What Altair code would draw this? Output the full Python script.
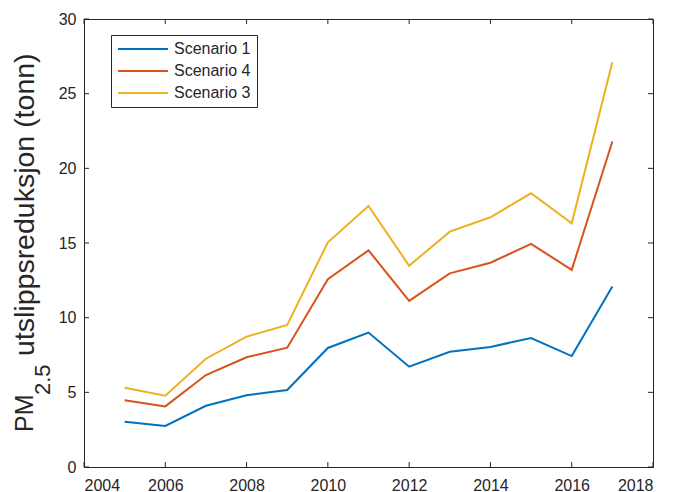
import altair as alt
import pandas as pd

# Annual PM2.5 emission reductions (tonnes) per scenario
years = [2005, 2006, 2007, 2008, 2009, 2010, 2011, 2012, 2013, 2014, 2015, 2016, 2017]
scenario_1 = [3.03, 2.75, 4.10, 4.80, 5.16, 7.97, 9.00, 6.72, 7.72, 8.04, 8.64, 7.43, 12.08]
scenario_4 = [4.47, 4.06, 6.16, 7.35, 7.99, 12.57, 14.51, 11.12, 12.97, 13.68, 14.94, 13.20, 21.80]
scenario_3 = [5.31, 4.78, 7.25, 8.73, 9.51, 15.05, 17.48, 13.48, 15.76, 16.72, 18.33, 16.32, 27.10]

series_names = ["Scenario 1", "Scenario 4", "Scenario 3"]
series_colors = ["#0072BD", "#D95319", "#EDB120"]

x_tick_values = [2004, 2006, 2008, 2010, 2012, 2014, 2016, 2018]
y_tick_values = [0, 5, 10, 15, 20, 25, 30]

title_parts = ["PM", "2.5", "utslippsreduksjon (tonn)"]

INK = "#262626"
FONT = "Liberation Sans"
W, H = 569, 448

rows = []
for name, vals in zip(series_names, [scenario_1, scenario_4, scenario_3]):
    for yr, v in zip(years, vals):
        rows.append({"year": yr, "value": v, "series": name})
df = pd.DataFrame(rows)

x_scale = alt.Scale(domain=[2004, 2018], nice=False, zero=False)
y_scale = alt.Scale(domain=[0, 30], nice=False)
x_axis = alt.Axis(values=x_tick_values, format="d", title=None)
y_axis = alt.Axis(values=y_tick_values, title=None)

lines = alt.Chart(df).mark_line(strokeWidth=2).encode(
    x=alt.X("year:Q", scale=x_scale, axis=x_axis),
    y=alt.Y("value:Q", scale=y_scale, axis=y_axis),
    color=alt.Color(
        "series:N",
        scale=alt.Scale(domain=series_names, range=series_colors),
        sort=series_names,
        legend=alt.Legend(
            title=None,
            orient="none",
            legendX=27,
            legendY=16,
            symbolType="stroke",
            symbolSize=2500,
            symbolStrokeWidth=2,
            clipHeight=16,
            labelFont=FONT,
            labelFontSize=16,
            labelColor=INK,
            labelOffset=5,
            rowPadding=6,
            padding=6,
            fillColor="white",
            strokeColor=INK,
        ),
    ),
)

xt = pd.DataFrame({"year": x_tick_values})
yt = pd.DataFrame({"value": y_tick_values})

# inward-pointing tick marks on all four sides of the box
tick_bottom = alt.Chart(xt).mark_rule(color=INK, strokeWidth=1).encode(
    x=alt.X("year:Q", scale=x_scale, axis=x_axis),
    y=alt.value(H), y2=alt.value(H - 5))
tick_top = alt.Chart(xt).mark_rule(color=INK, strokeWidth=1).encode(
    x=alt.X("year:Q", scale=x_scale, axis=x_axis),
    y=alt.value(0), y2=alt.value(5))
tick_left = alt.Chart(yt).mark_rule(color=INK, strokeWidth=1).encode(
    y=alt.Y("value:Q", scale=y_scale, axis=y_axis),
    x=alt.value(0), x2=alt.value(5))
tick_right = alt.Chart(yt).mark_rule(color=INK, strokeWidth=1).encode(
    y=alt.Y("value:Q", scale=y_scale, axis=y_axis),
    x=alt.value(W), x2=alt.value(W - 5))

# y-axis title with a subscript, built from three rotated text pieces
def title_piece(text, size, x, y):
    return alt.Chart(pd.DataFrame({"txt": [text]})).mark_text(
        angle=270, align="left", baseline="alphabetic",
        font=FONT, fontSize=size, color=INK,
    ).encode(text="txt:N", x=alt.value(x), y=alt.value(y))

ttl_main = title_piece(title_parts[0], 25, -51, 413)
ttl_sub = title_piece(title_parts[1], 22, -34, 376)
ttl_rest = title_piece(title_parts[2], 28.5, -50, 337)

chart = alt.layer(
    lines, tick_bottom, tick_top, tick_left, tick_right,
    ttl_main, ttl_sub, ttl_rest,
).properties(
    width=W,
    height=H,
    autosize=alt.AutoSizeParams(type="none"),
    padding={"left": 84, "top": 19, "right": 20, "bottom": 25},
).configure_view(
    stroke=INK, strokeWidth=1,
).configure_axis(
    grid=False,
    ticks=False,
    tickSize=0,
    domainColor=INK,
    domainWidth=1,
    labelColor=INK,
    labelFont=FONT,
    labelFontSize=16,
).configure_axisX(
    labelPadding=10,
).configure_axisY(
    labelPadding=8,
)

chart.save("out.html", embed_options={"renderer": "svg", "actions": False})
